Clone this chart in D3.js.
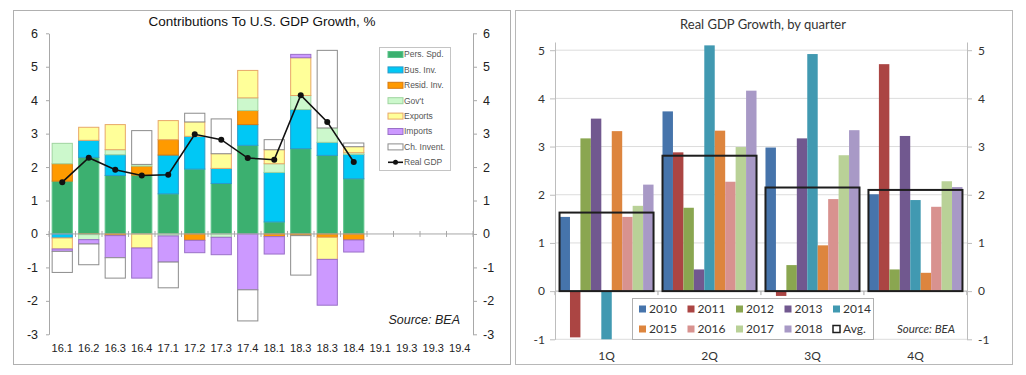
<!DOCTYPE html>
<html>
<head>
<meta charset="utf-8">
<script src="https://cdn.jsdelivr.net/npm/d3@7"></script>
<style>
  body { margin: 0; background: #fff; }
  svg { display: block; }
</style>
</head>
<body>
<svg id="chart" width="1026" height="375"></svg>
<script>
// ---- left panel data: contributions to GDP growth, pct pts ----
const quarterLabels = ["16.1", "16.2", "16.3", "16.4", "17.1", "17.2", "17.3", "17.4",
  "18.1", "18.3", "18.3", "18.4", "19.1", "19.3", "19.3", "19.4"];
const persSpd  = [1.58, 2.29, 1.75, 1.76, 1.20, 1.94, 1.51, 2.65, 0.36, 2.55, 2.35, 1.65];
const busInv   = [-0.12, 0.51, 0.62, 0, 1.16, 0.98, 0.45, 0.62, 1.48, 1.17, 0.39, 0.73];
const residInv = [0.52, -0.02, -0.05, 0.27, 0.46, -0.19, 0, 0.42, -0.08, -0.05, -0.10, -0.18];
const govt     = [0.61, -0.15, 0.15, 0.05, -0.06, 0, -0.10, 0.38, 0.26, 0.42, 0.43, 0.05];
const exportsC = [-0.33, 0.39, 0.75, -0.42, 0.57, 0.43, 0.44, 0.82, 0.42, 1.13, -0.66, 0.18];
const importsC = [-0.07, -0.13, -0.66, -0.90, -0.78, -0.37, -0.52, -1.67, -0.52, 0.10, -1.37, -0.36];
const chInvent = [-0.63, -0.62, -0.61, 1.01, -0.77, 0.26, 1.04, -0.93, 0.30, -1.18, 2.32, 0.11];
const realGdp  = [1.55, 2.28, 1.92, 1.75, 1.77, 2.98, 2.82, 2.27, 2.22, 4.15, 3.35, 2.15];
const leftTicks = [-3, -2, -1, 0, 1, 2, 3, 4, 5, 6];

// ---- right panel data: real GDP growth by quarter ----
const qtrNames = ["1Q", "2Q", "3Q", "4Q"];
const years = ["2010", "2011", "2012", "2013", "2014", "2015", "2016", "2017", "2018"];
const g2010 = [1.54, 3.73, 2.98, 2.01];
const g2011 = [-0.96, 2.88, -0.10, 4.71];
const g2012 = [3.17, 1.73, 0.54, 0.45];
const g2013 = [3.58, 0.45, 3.17, 3.22];
const g2014 = [-1.1, 5.10, 4.92, 1.89];
const g2015 = [3.32, 3.33, 0.95, 0.38];
const g2016 = [1.54, 2.27, 1.91, 1.75];
const g2017 = [1.77, 2.99, 2.82, 2.28];
const g2018 = [2.21, 4.16, 3.34, 2.16];
const avgGrowth = [1.63, 2.81, 2.15, 2.10];
const rightTicks = [-1, 0, 1, 2, 3, 4, 5];

const svg = d3.select("#chart");
const plainNum = (d) => String(d); // hyphen minus like the original, not d3's unicode minus

// ================= LEFT PANEL =================
const LF = "'Liberation Sans', Arial, sans-serif";

svg.append("rect")
  .attr("x", 13.5).attr("y", 10.5).attr("width", 497).attr("height", 354)
  .attr("fill", "#fff").attr("stroke", "#b0b0b0");

svg.append("text")
  .attr("x", 262).attr("y", 26)
  .attr("text-anchor", "middle")
  .attr("font-family", LF).attr("font-size", 13.5).attr("fill", "#111")
  .text("Contributions To U.S. GDP Growth, %");

const seriesKeys = [
  { key: "Pers. Spd.", vals: persSpd, fill: "#3cb070", stroke: "#5cc48a" },
  { key: "Bus. Inv.", vals: busInv, fill: "#00c8f5", stroke: "#2a9ac8" },
  { key: "Resid. Inv.", vals: residInv, fill: "#ff9a00", stroke: "#d87a10" },
  { key: "Gov't", vals: govt, fill: "#ccf8cc", stroke: "#9fd49f" },
  { key: "Exports", vals: exportsC, fill: "#ffff99", stroke: "#e8a868" },
  { key: "Imports", vals: importsC, fill: "#cc99ff", stroke: "#9a70c8" },
  { key: "Ch. Invent.", vals: chInvent, fill: "#ffffff", stroke: "#8c8c8c" },
];

const rows = realGdp.map((_, i) => {
  const r = { idx: i };
  seriesKeys.forEach((s) => (r[s.key] = s.vals[i]));
  return r;
});

const stacked = d3.stack()
  .keys(seriesKeys.map((s) => s.key))
  .offset(d3.stackOffsetDiverging)(rows);

const xL = d3.scaleBand()
  .domain(d3.range(quarterLabels.length))
  .range([49, 473])
  .paddingInner(0.2)
  .paddingOuter(0.1);

const yL = d3.scaleLinear().domain([-3, 6]).range([334.3, 33.3]);

const leftG = svg.append("g");

// bars
stacked.forEach((layer, li) => {
  const s = seriesKeys[li];
  leftG.append("g")
    .selectAll("rect")
    .data(layer.filter((d) => Math.abs(d[1] - d[0]) > 1e-9))
    .join("rect")
    .attr("x", (d) => xL(d.data.idx) + 0.5)
    .attr("width", xL.bandwidth() - 1)
    .attr("y", (d) => yL(Math.max(d[0], d[1])))
    .attr("height", (d) => Math.abs(yL(d[0]) - yL(d[1])))
    .attr("fill", s.fill)
    .attr("stroke", s.stroke)
    .attr("stroke-width", 1);
});

// zero line with boundary ticks
const zeroY = yL(0);
leftG.append("line")
  .attr("x1", 49).attr("x2", 473).attr("y1", zeroY).attr("y2", zeroY)
  .attr("stroke", "#a8a8a8").attr("stroke-width", 1);
leftG.append("g")
  .selectAll("line")
  .data(d3.range(quarterLabels.length + 1))
  .join("line")
  .attr("x1", (i) => 49 + i * xL.step())
  .attr("x2", (i) => 49 + i * xL.step())
  .attr("y1", zeroY - 3).attr("y2", zeroY + 3)
  .attr("stroke", "#a8a8a8");

// y axes
const yAxisLeftL = leftG.append("g")
  .attr("transform", "translate(49,0)")
  .call(d3.axisLeft(yL).tickValues(leftTicks).tickFormat(plainNum).tickSize(3).tickPadding(8).tickSizeOuter(0));
const yAxisRightL = leftG.append("g")
  .attr("transform", "translate(473,0)")
  .call(d3.axisRight(yL).tickValues(leftTicks).tickFormat(plainNum).tickSize(4).tickPadding(6).tickSizeOuter(0));
[yAxisLeftL, yAxisRightL].forEach((g) => {
  g.select(".domain").attr("stroke", "#a8a8a8");
  g.selectAll(".tick line").attr("stroke", "#a8a8a8");
  g.selectAll("text").attr("font-family", LF).attr("font-size", 12.5).attr("fill", "#222");
});

// x labels
leftG.append("g")
  .selectAll("text")
  .data(quarterLabels)
  .join("text")
  .attr("x", (d, i) => xL(i) + xL.bandwidth() / 2)
  .attr("y", 352)
  .attr("text-anchor", "middle")
  .attr("font-family", LF).attr("font-size", 11).attr("fill", "#222")
  .text((d) => d);

// Real GDP line
const gdpLine = d3.line()
  .x((d, i) => xL(i) + xL.bandwidth() / 2)
  .y((d) => yL(d));
leftG.append("path")
  .datum(realGdp)
  .attr("d", gdpLine)
  .attr("fill", "none")
  .attr("stroke", "#111")
  .attr("stroke-width", 1.6);
leftG.append("g")
  .selectAll("circle")
  .data(realGdp)
  .join("circle")
  .attr("cx", (d, i) => xL(i) + xL.bandwidth() / 2)
  .attr("cy", (d) => yL(d))
  .attr("r", 3)
  .attr("fill", "#111");

// legend
const legL = leftG.append("g");
legL.append("rect")
  .attr("x", 379.5).attr("y", 47.5).attr("width", 71).attr("height", 123)
  .attr("fill", "#fff").attr("stroke", "#c4c4c4");
const legItems = seriesKeys.map((s) => ({ key: s.key, fill: s.fill, stroke: s.stroke, line: false }))
  .concat([{ key: "Real GDP", line: true }]);
const legRow = legL.selectAll("g.item")
  .data(legItems)
  .join("g")
  .attr("class", "item")
  .attr("transform", (d, i) => `translate(388,${54.5 + i * 15.4})`);
legRow.filter((d) => !d.line)
  .append("rect")
  .attr("x", 0).attr("y", -3).attr("width", 15).attr("height", 6)
  .attr("fill", (d) => d.fill).attr("stroke", (d) => d.stroke);
legRow.filter((d) => d.line)
  .append("line")
  .attr("x1", 0).attr("x2", 15).attr("y1", 0).attr("y2", 0)
  .attr("stroke", "#111").attr("stroke-width", 1.6);
legRow.filter((d) => d.line)
  .append("circle")
  .attr("cx", 7.5).attr("cy", 0).attr("r", 2.5).attr("fill", "#111");
legRow.append("text")
  .attr("x", 16).attr("y", 0).attr("dy", "0.35em")
  .attr("font-family", LF).attr("font-size", 8.5).attr("fill", "#555")
  .text((d) => d.key);

leftG.append("text")
  .attr("x", 460).attr("y", 324)
  .attr("text-anchor", "end")
  .attr("font-family", LF).attr("font-size", 12.5).attr("font-style", "italic").attr("fill", "#222")
  .text("Source: BEA");

// ================= RIGHT PANEL =================
const RF = "Lato, 'Open Sans', sans-serif";

svg.append("rect")
  .attr("x", 515.5).attr("y", 10.5).attr("width", 497).attr("height", 354)
  .attr("fill", "#fff").attr("stroke", "#b8b8b8");

svg.append("text")
  .attr("x", 763).attr("y", 29)
  .attr("text-anchor", "middle")
  .attr("font-family", RF).attr("font-size", 13).attr("fill", "#333")
  .text("Real GDP Growth, by quarter");

const yearSeries = [g2010, g2011, g2012, g2013, g2014, g2015, g2016, g2017, g2018];
const yearColors = ["#4674ab", "#ab4543", "#8aa650", "#71588f", "#4199b1", "#dd853e", "#d8928f", "#b9d197", "#a899c6"];

const xR = d3.scaleBand().domain(qtrNames).range([555, 967]).paddingInner(0.087).paddingOuter(0.044);
const xYear = d3.scaleBand().domain(years).range([0, xR.bandwidth()]);
const yR = d3.scaleLinear().domain([-1, 5.17]).range([339.3, 42]).clamp(true);

const rightG = svg.append("g");

// gridlines
rightG.append("g")
  .selectAll("line")
  .data(rightTicks)
  .join("line")
  .attr("x1", 555).attr("x2", 967)
  .attr("y1", (d) => yR(d)).attr("y2", (d) => yR(d))
  .attr("stroke", (d) => (d === 0 ? "#a6a6a6" : "#dcdcdc"))
  .attr("stroke-width", 1);

// category boundary ticks on zero line
rightG.append("g")
  .selectAll("line")
  .data(d3.range(qtrNames.length + 1))
  .join("line")
  .attr("x1", (i) => 555 + i * xR.step())
  .attr("x2", (i) => 555 + i * xR.step())
  .attr("y1", yR(0)).attr("y2", yR(0) + 4)
  .attr("stroke", "#a6a6a6");

// bars
const barData = [];
yearSeries.forEach((vals, yi) => {
  vals.forEach((v, qi) => barData.push({ q: qtrNames[qi], year: years[yi], v, color: yearColors[yi] }));
});
rightG.append("g")
  .selectAll("rect")
  .data(barData)
  .join("rect")
  .attr("x", (d) => xR(d.q) + xYear(d.year))
  .attr("width", xYear.bandwidth())
  .attr("y", (d) => yR(Math.max(0, d.v)))
  .attr("height", (d) => Math.abs(yR(d.v) - yR(0)))
  .attr("fill", (d) => d.color);

// average boxes
rightG.append("g")
  .selectAll("rect")
  .data(avgGrowth)
  .join("rect")
  .attr("x", (d, i) => xR(qtrNames[i]))
  .attr("width", xR.bandwidth())
  .attr("y", (d) => yR(d))
  .attr("height", (d) => yR(0) - yR(d))
  .attr("fill", "none")
  .attr("stroke", "#1e1e1e")
  .attr("stroke-width", 2);

// axes
const yAxisLeftR = rightG.append("g")
  .attr("transform", "translate(555,0)")
  .call(d3.axisLeft(yR).tickValues(rightTicks).tickFormat(plainNum).tickSize(5).tickPadding(5).tickSizeOuter(0));
const yAxisRightR = rightG.append("g")
  .attr("transform", "translate(967,0)")
  .call(d3.axisRight(yR).tickValues(rightTicks).tickFormat(plainNum).tickSize(5).tickPadding(6).tickSizeOuter(0));
[yAxisLeftR, yAxisRightR].forEach((g) => {
  g.select(".domain").attr("stroke", "#bdbdbd");
  g.selectAll(".tick line").attr("stroke", "#bdbdbd");
  g.selectAll("text").attr("font-family", RF).attr("font-size", 12).attr("fill", "#333");
});

rightG.append("g")
  .selectAll("text")
  .data(qtrNames)
  .join("text")
  .attr("x", (d) => xR(d) + xR.bandwidth() / 2)
  .attr("y", 360)
  .attr("text-anchor", "middle")
  .attr("font-family", RF).attr("font-size", 12).attr("fill", "#333")
  .text((d) => d);

// legend
const legR = rightG.append("g");
legR.append("rect")
  .attr("x", 632.5).attr("y", 298.5).attr("width", 241).attr("height", 41)
  .attr("fill", "#fff").attr("stroke", "#b0b0b0");
const legRItems = years.map((y, i) => ({ label: y, color: yearColors[i] }))
  .concat([{ label: "Avg.", color: null }]);
const legRRow = legR.selectAll("g.item")
  .data(legRItems)
  .join("g")
  .attr("class", "item")
  .attr("transform", (d, i) => `translate(${639 + (i % 5) * 48.5},${309 + Math.floor(i / 5) * 20})`);
legRRow.append("rect")
  .attr("x", 0).attr("y", -3.5).attr("width", 7).attr("height", 7)
  .attr("fill", (d) => d.color || "#fff")
  .attr("stroke", (d) => (d.color ? "none" : "#1e1e1e"))
  .attr("stroke-width", 1.5);
legRRow.append("text")
  .attr("x", 10).attr("y", 0).attr("dy", "0.36em")
  .attr("font-family", RF).attr("font-size", 12).attr("fill", "#333")
  .text((d) => d.label);

rightG.append("text")
  .attr("x", 955).attr("y", 333)
  .attr("text-anchor", "end")
  .attr("font-family", RF).attr("font-size", 11.5).attr("font-style", "italic").attr("fill", "#333")
  .text("Source: BEA");
</script>
</body>
</html>
